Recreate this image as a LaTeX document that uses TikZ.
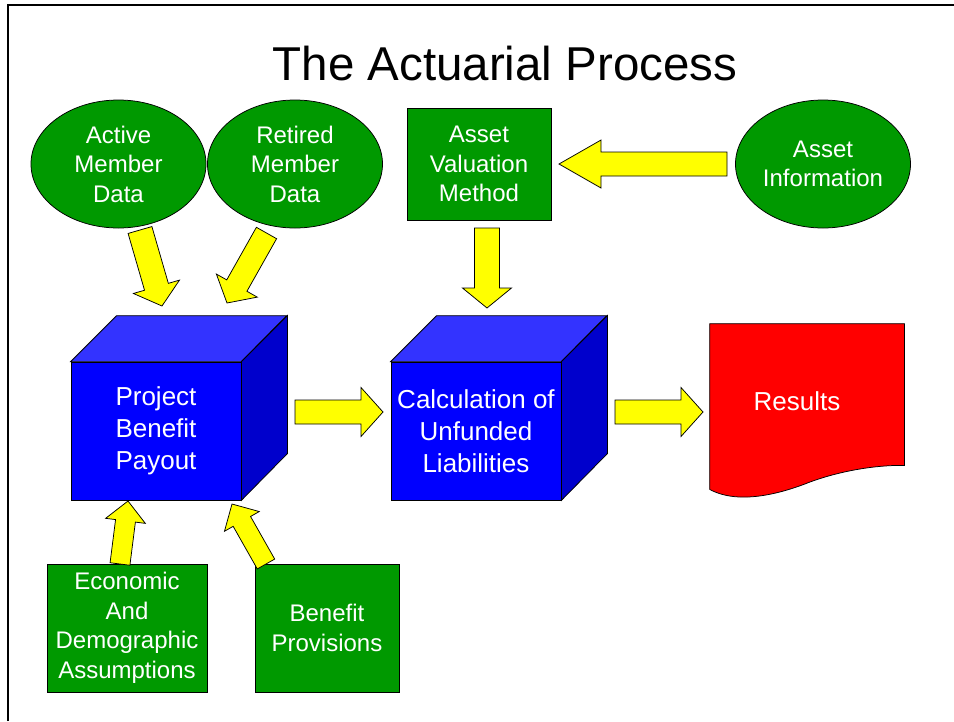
\documentclass[tikz,border=0pt]{standalone}
\usepackage{fontspec}
\setmainfont{Liberation Sans}
\usetikzlibrary{shapes.geometric,calc}

\definecolor{dgreen}{HTML}{009900}
\definecolor{fblue}{HTML}{0000FF}
\definecolor{tblue}{HTML}{3333FF}
\definecolor{sblue}{HTML}{0000CC}
\definecolor{ayellow}{HTML}{FFFF00}
\definecolor{rred}{HTML}{FF0000}

\newcommand\titlefont{\fontsize{47.5}{57}\selectfont}
\newcommand\greenfont{\fontsize{24}{29.5}\selectfont}
\newcommand\cubefont{\fontsize{26}{32}\selectfont}

% fat arrow: tail, tip, half shaft, half head, head length
\newcommand\blockarrow[5]{%
  \coordinate (ba-h) at ($(#2)!#5!(#1)$);
  \draw[fatarrow] ($(#1)!#3!90:(#2)$) -- ($(ba-h)!#3!90:(#2)$) -- ($(ba-h)!#4!90:(#2)$)
    -- (#2) -- ($(ba-h)!#4!-90:(#2)$) -- ($(ba-h)!#3!-90:(#2)$) -- ($(#1)!#3!-90:(#2)$) -- cycle;
}

\begin{document}
\begin{tikzpicture}[x=1pt,y=-1pt,line width=0.75pt,
  datanode/.style={ellipse,draw,fill=dgreen,text=white,font=\greenfont,align=center,
    minimum width=175pt,minimum height=128pt,inner sep=0pt},
  inbox/.style={rectangle,draw,fill=dgreen,text=white,font=\greenfont,align=center,inner sep=0pt},
  cubeface/.style={rectangle,draw,fill=fblue,text=white,font=\cubefont,align=center,
    minimum width=170pt,minimum height=138pt,inner sep=0pt},
  fatarrow/.style={draw,fill=ayellow,line join=miter}]
\useasboundingbox (0,0) rectangle (954,721);
\draw[line width=2pt] (8,721) -- (8,5.3) -- (954,5.3);
\node[anchor=base,font=\titlefont] (title) at (505,80) {The Actuarial Process};

%inputs
\node[datanode] (act) at (118.5,164) {Active\\Member\\Data};
\node[datanode] (ret) at (295,164) {Retired\\Member\\Data};
\node[inbox,minimum width=144pt,minimum height=112pt] (avm) at (479,164) {Asset\\Valuation\\Method};
\node[datanode] (ainf) at (823,164) {Asset\\Information};
\node[inbox,minimum width=160pt,minimum height=128pt] (eda) at (127,628) {Economic\\And\\Demographic\\Assumptions};
\node[inbox,minimum width=144pt,minimum height=128pt] (bprov) at (327,628) {Benefit\\Provisions};

%cube 1
\node[cubeface] (pbp) at (156,431) {Project\\Benefit\\Payout};
\draw[fill=tblue] (pbp.north west) -- ++(46,-46) -- ++(170,0) -- (pbp.north east) -- cycle;
\draw[fill=sblue] (pbp.north east) -- ++(46,-46) -- ++(0,138) -- (pbp.south east) -- cycle;
%cube 2
\node[cubeface] (cul) at (476,431) {Calculation of\\Unfunded\\Liabilities};
\draw[fill=tblue] (cul.north west) -- ++(46,-46) -- ++(170,0) -- (cul.north east) -- cycle;
\draw[fill=sblue] (cul.north east) -- ++(46,-46) -- ++(0,138) -- (cul.south east) -- cycle;

%results sheet
\node[minimum width=194pt,minimum height=165pt,inner sep=0pt] (res) at (807,406.5) {};
\draw[fill=rred] (res.north west) -- (res.north east) -- ([yshift=24pt]res.south east)
  .. controls (875,465) and (840,471) .. (810,482)
  .. controls (785,492) and (740,506) .. (res.south west) -- cycle;
\node[text=white,font=\cubefont] (restxt) at (797,401) {Results};

%arrow ends
\coordinate (a1) at (140,230); \coordinate (b1) at (162,306);
\coordinate (a2) at (266.5,233); \coordinate (b2) at (227,303);
\coordinate (a3) at (727,164); \coordinate (b3) at (559,164);
\coordinate (a4) at (487,228); \coordinate (b4) at (487,308);
\coordinate (a5) at (295,412); \coordinate (b5) at (383,412);
\coordinate (a6) at (615,412); \coordinate (b6) at (703,412);
\coordinate (a7) at (120,564); \coordinate (b7) at (128,501);
\coordinate (a8) at (266,564); \coordinate (b8) at (232,504);

\blockarrow{a1}{b1}{12.4pt}{24pt}{20pt}
\blockarrow{a2}{b2}{11.6pt}{23.5pt}{20pt}
\blockarrow{a3}{b3}{12pt}{24pt}{42pt}
\blockarrow{a4}{b4}{12.5pt}{24.5pt}{20pt}
\blockarrow{a5}{b5}{12pt}{24.5pt}{22pt}
\blockarrow{a6}{b6}{12pt}{24.5pt}{22pt}
\blockarrow{a7}{b7}{10pt}{20pt}{20pt}
\blockarrow{a8}{b8}{10pt}{20pt}{20pt}

\end{tikzpicture}
\end{document}
